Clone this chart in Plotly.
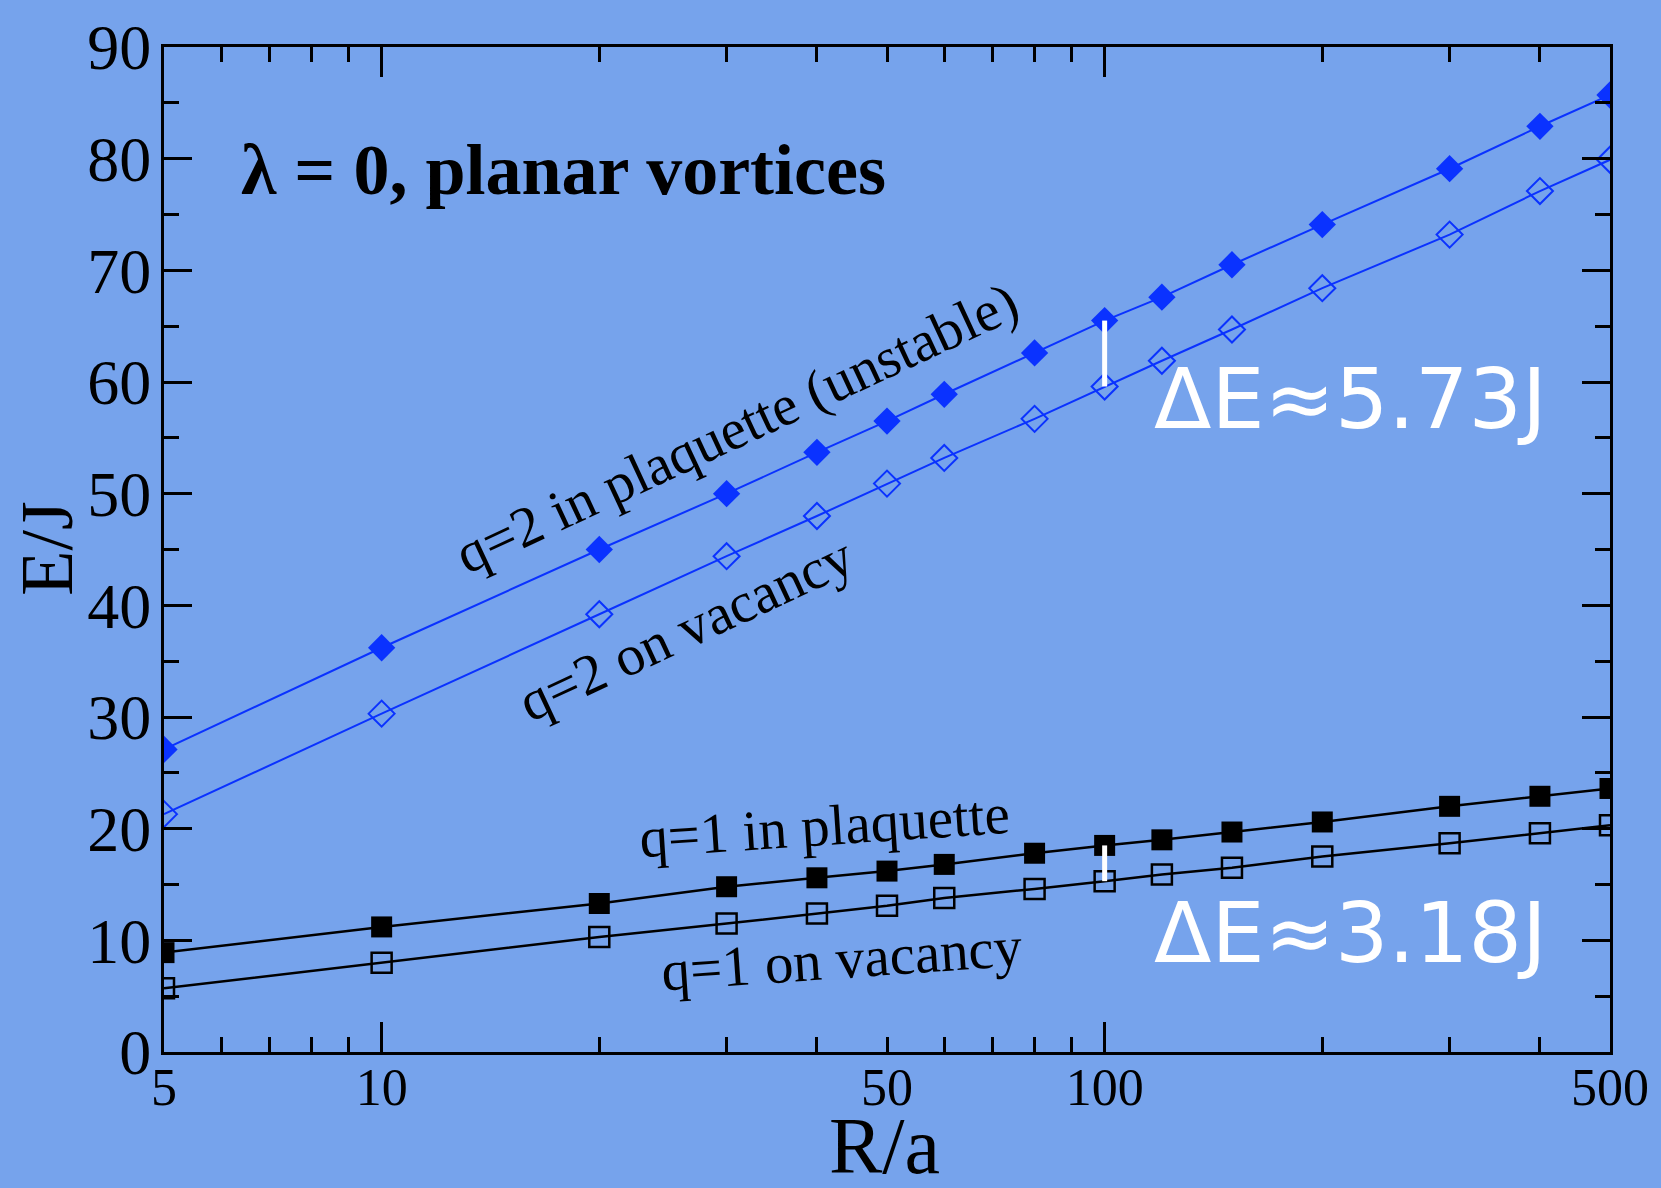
import math
import plotly.graph_objects as go

# ---------------- data ----------------
R = [5, 10, 20, 30, 40, 50, 60, 80, 100, 120, 150, 200, 300, 400, 500]
q2_plaquette = [27.1, 36.2, 45.0, 50.0, 53.7, 56.5, 58.9, 62.6, 65.5, 67.6, 70.5, 74.1, 79.1, 82.9, 85.7]
q2_vacancy = [21.3, 30.3, 39.2, 44.4, 48.0, 50.9, 53.2, 56.7, 59.6, 61.9, 64.7, 68.4, 73.2, 77.1, 79.9]
q1_plaquette = [8.9, 11.2, 13.3, 14.8, 15.6, 16.2, 16.8, 17.8, 18.5, 19.0, 19.7, 20.6, 22.0, 22.9, 23.6]
q1_vacancy = [5.7, 8.0, 10.3, 11.5, 12.4, 13.1, 13.8, 14.6, 15.3, 15.9, 16.5, 17.5, 18.7, 19.6, 20.3]

gap_R = 100
gap_q2_label = "ΔE≈5.73J"
gap_q1_label = "ΔE≈3.18J"

x_label_vals = [5, 10, 50, 100, 500]
x_label_text = ["5", "10", "50", "100", "500"]
x_major = [10, 100]
x_minor = [6, 7, 8, 9, 20, 30, 40, 50, 60, 70, 80, 90, 200, 300, 400]
y_major = [0, 10, 20, 30, 40, 50, 60, 70, 80, 90]
y_minor = [5, 15, 25, 35, 45, 55, 65, 75, 85]

# ---------------- style ----------------
BG = "#76a3ec"
BLUE = "#0a32ff"
SERIF = "Liberation Serif, Times New Roman, serif"
SANS = "DejaVu Sans, Open Sans, sans-serif"

fig = go.Figure()

fig.add_trace(go.Scatter(x=R, y=q1_plaquette, mode="lines+markers",
                         line=dict(color="black", width=2.5),
                         marker=dict(symbol="square", size=21, color="black")))
fig.add_trace(go.Scatter(x=R, y=q1_vacancy, mode="lines+markers",
                         line=dict(color="black", width=2.5),
                         marker=dict(symbol="square-open", size=20, color="black",
                                     line=dict(width=2.5))))
fig.add_trace(go.Scatter(x=R, y=q2_plaquette, mode="lines+markers",
                         line=dict(color=BLUE, width=2),
                         marker=dict(symbol="diamond", size=21, color=BLUE)))
fig.add_trace(go.Scatter(x=R, y=q2_vacancy, mode="lines+markers",
                         line=dict(color=BLUE, width=2),
                         marker=dict(symbol="diamond-open", size=20, color=BLUE,
                                     line=dict(width=2))))

i_gap = R.index(gap_R)
for top, bot in [(q2_plaquette, q2_vacancy), (q1_plaquette, q1_vacancy)]:
    fig.add_trace(go.Scatter(x=[gap_R, gap_R], y=[top[i_gap], bot[i_gap]],
                             mode="lines", line=dict(color="white", width=5),
                             xaxis="x2", yaxis="y", hoverinfo="skip"))

xr = [math.log10(R[0]), math.log10(R[-1])]

fig.update_layout(
    width=1661, height=1188,
    margin=dict(l=164, r=47, t=40, b=136),
    paper_bgcolor=BG, plot_bgcolor=BG,
    showlegend=False,
    font=dict(family=SERIF, color="black"),
    xaxis=dict(type="log", range=xr, tickmode="array", tickvals=x_major,
               ticks="inside", ticklen=30, tickwidth=3, tickcolor="black",
               showticklabels=False, showline=True, linecolor="black", linewidth=3,
               mirror="ticks", showgrid=False, zeroline=False,
               minor=dict(tickmode="array", tickvals=x_minor, ticks="inside",
                          ticklen=15, tickwidth=3, tickcolor="black", showgrid=False)),
    xaxis2=dict(type="log", range=xr, overlaying="x", anchor="y", side="bottom",
                tickmode="array", tickvals=x_label_vals, ticktext=x_label_text,
                ticks="", showline=False, showgrid=False, zeroline=False,
                tickfont=dict(family=SERIF, size=52, color="black")),
    yaxis=dict(range=[0, 90], tickmode="array", tickvals=y_major,
               ticks="inside", ticklen=28, tickwidth=3, tickcolor="black",
               showline=True, linecolor="black", linewidth=3, mirror="ticks",
               showgrid=False, zeroline=False, ticklabelstandoff=-3,
               tickfont=dict(family=SERIF, size=64, color="black"),
               minor=dict(tickmode="array", tickvals=y_minor, ticks="inside",
                          ticklen=15, tickwidth=3, tickcolor="black", showgrid=False)),
)

ann = [
    dict(text="<b>λ = 0, planar vortices</b>", x=0.0517, y=0.878, xanchor="left",
         yanchor="middle", font=dict(family=SERIF, size=72, color="black")),
    dict(text="q=2 in plaquette (unstable)", x=0.396, y=0.621, textangle=-25,
         font=dict(family=SERIF, size=57, color="black")),
    dict(text="q=2 on vacancy", x=0.361, y=0.421, textangle=-25,
         font=dict(family=SERIF, size=57, color="black")),
    dict(text="q=1 in plaquette", x=0.457, y=0.225, textangle=-3.8,
         font=dict(family=SERIF, size=57, color="black")),
    dict(text="q=1 on vacancy", x=0.469, y=0.093, textangle=-4,
         font=dict(family=SERIF, size=57, color="black")),
    dict(text=gap_q2_label, x=0.8205, y=0.650,
         font=dict(family=SANS, size=84, color="white")),
    dict(text=gap_q1_label, x=0.8205, y=0.118,
         font=dict(family=SANS, size=84, color="white")),
    dict(text="E/J", x=-0.0807, y=0.501, textangle=-90,
         font=dict(family=SERIF, size=74, color="black")),
    dict(text="R/a", x=0.4986, y=-0.094,
         font=dict(family=SERIF, size=80, color="black")),
]
for a in ann:
    a.setdefault("xanchor", "center")
    a.setdefault("yanchor", "middle")
    fig.add_annotation(xref="paper", yref="paper", showarrow=False, **a)

fig.write_html("out.html", config={"displayModeBar": False},
               post_script="document.body.style.margin='0';document.body.style.overflow='hidden';")
